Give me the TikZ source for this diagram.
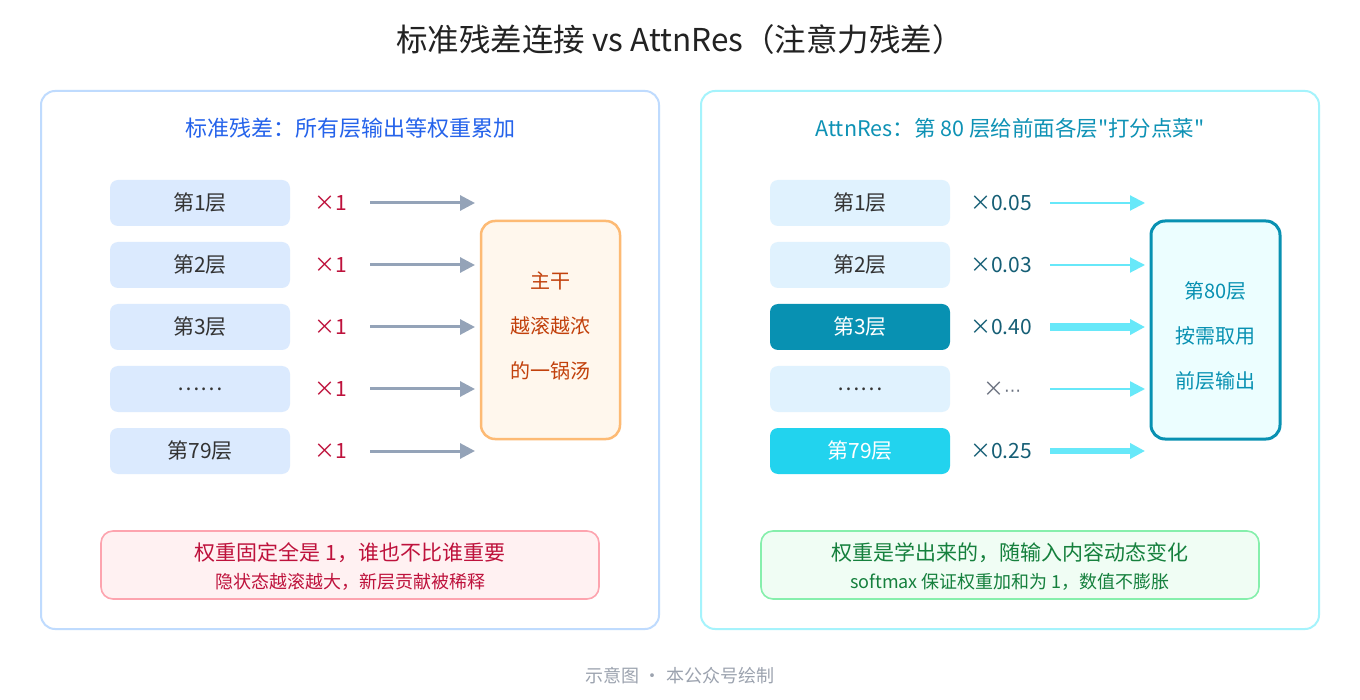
\documentclass[tikz,border=0pt]{standalone}
\usepackage{fontspec}
\setmainfont{Noto Sans CJK SC}[Ligatures=TeXOff]
\newfontfamily\dvfont{DejaVu Sans}
\usetikzlibrary{arrows.meta}
\definecolor{titlec}{HTML}{222222}
\definecolor{lpanel}{HTML}{BFDBFE}
\definecolor{rpanel}{HTML}{A5F3FC}
\definecolor{lsub}{HTML}{2563EB}
\definecolor{rsub}{HTML}{0E92B5}
\definecolor{llay}{HTML}{DBEAFE}
\definecolor{rlay}{HTML}{E0F2FE}
\definecolor{laytxt}{HTML}{333333}
\definecolor{wred}{HTML}{BE123C}
\definecolor{wteal}{HTML}{155E75}
\definecolor{wgray}{HTML}{6B7280}
\definecolor{larrow}{HTML}{94A3B8}
\definecolor{rarrow}{HTML}{67E8F9}
\definecolor{ofill}{HTML}{FFF7ED}
\definecolor{oline}{HTML}{FDBA74}
\definecolor{otxt}{HTML}{C2410C}
\definecolor{cfill}{HTML}{ECFEFF}
\definecolor{cline}{HTML}{0891B2}
\definecolor{dark3}{HTML}{0891B2}
\definecolor{cyan79}{HTML}{22D3EE}
\definecolor{pfill}{HTML}{FFF1F2}
\definecolor{pline}{HTML}{FDA4AF}
\definecolor{ptxt}{HTML}{BE123C}
\definecolor{gfill}{HTML}{F0FDF4}
\definecolor{gline}{HTML}{86EFAC}
\definecolor{gtxt}{HTML}{15803D}
\definecolor{foot}{HTML}{9CA3AF}
\newcommand{\fs}[1]{\fontsize{#1}{#1}\selectfont}
\tikzset{
  panel/.style={draw, line width=2pt, rounded corners=14pt, fill=white, minimum width=618pt, minimum height=538pt, inner sep=0pt},
  laybox/.style={rounded corners=8pt, minimum width=180pt, minimum height=46pt, inner sep=0pt, font=\fs{21}, text=laytxt},
  wlab/.style={font=\fs{21}, inner sep=0pt},
  larr/.style={draw=larrow, line width=3pt, -{Triangle[length=15pt,width=15pt]}, shorten >=0pt},
  rarr/.style={draw=rarrow, -{Triangle[length=15pt,width=15pt]}},
  bigbox/.style={line width=2.5pt, rounded corners=14pt, inner sep=0pt},
  notebox/.style={line width=1.6pt, rounded corners=12pt, minimum width=498pt, minimum height=68pt, inner sep=0pt},
  txt/.style={inner sep=0pt}
}
\begin{document}
\begin{tikzpicture}[x=1pt,y=-1pt]
\useasboundingbox (0,0) rectangle (1360,700);
\fill[white] (0,0) rectangle (1360,700);

\node[txt, text=titlec, font=\fs{31.5}] (title) at (680,40) {标准残差连接 vs AttnRes（注意力残差）};

% panels
\node[panel, draw=lpanel] (lp) at (350,360) {};
\node[panel, draw=rpanel] (rp) at (1010,360) {};

\node[txt, text=lsub, font=\fs{22}] (lsub) at (350,128) {标准残差：所有层输出等权重累加};
\node[txt, text=rsub, font=\fs{21.5}] (rsub) at (1010,128) {AttnRes：第 80 层给前面各层"打分点菜"};

% left layers
\foreach \i/\y/\t in {1/203/第1层, 2/265/第2层, 3/327/第3层, 4/389/……, 5/451/第79层}{
  \node[laybox, fill=llay] (l\i) at (200,\y) {\t};
  \node[wlab, text=wred] (lw\i) at (331,\y) {×1};
  \coordinate (ls\i) at (370,\y);
  \coordinate (le\i) at (475,\y);
  \draw[larr] (ls\i) -- (le\i);
}

% orange box
\node[bigbox, draw=oline, fill=ofill, minimum width=139pt, minimum height=218pt] (trunk) at (550.5,330) {};
\node[txt, text=otxt, font=\fs{20}] (t1) at (550.5,281) {主干};
\node[txt, text=otxt, font=\fs{20}] (t2) at (550.5,326) {越滚越浓};
\node[txt, text=otxt, font=\fs{20}] (t3) at (550.5,371) {的一锅汤};

% right layers
\node[laybox, fill=rlay] (r1) at (860,203) {第1层};
\node[laybox, fill=rlay] (r2) at (860,265) {第2层};
\node[laybox, fill=dark3, text=white] (r3) at (860,327) {第3层};
\node[laybox, fill=rlay] (r4) at (860,389) {……};
\node[laybox, fill=cyan79, text=white] (r5) at (860,451) {第79层};

\node[wlab, text=wteal] (rw1) at (1001,203) {×0.05};
\node[wlab, text=wteal] (rw2) at (1001,265) {×0.03};
\node[wlab, text=wteal] (rw3) at (1001,327) {×0.40};
\node[wlab, text=wgray] (rw4) at (1002,389) {×{\dvfont\fs{17}⋯}};
\node[wlab, text=wteal] (rw5) at (1001,451) {×0.25};

\foreach \i/\y in {1/203,2/265,3/327,4/389,5/451}{
  \coordinate (rs\i) at (1050,\y);
  \coordinate (re\i) at (1145,\y);
}
\draw[rarr, line width=2pt] (rs1) -- (re1);
\draw[rarr, line width=2pt] (rs2) -- (re2);
\draw[rarr, line width=8pt] (rs3) -- (re3);
\draw[rarr, line width=2.5pt] (rs4) -- (re4);
\draw[rarr, line width=6.5pt] (rs5) -- (re5);

% cyan box
\node[bigbox, line width=3pt, draw=cline, fill=cfill, minimum width=129pt, minimum height=218pt] (l80) at (1215.5,330) {};
\node[txt, text=cline, font=\fs{20}] (c1) at (1215.5,291) {第80层};
\node[txt, text=cline, font=\fs{20}] (c2) at (1215.5,336) {按需取用};
\node[txt, text=cline, font=\fs{20}] (c3) at (1215.5,381) {前层输出};

% notes
\node[notebox, draw=pline, fill=pfill] (pn) at (350,565) {};
\node[txt, text=ptxt, font=\fs{21}] (pn1) at (350,553) {权重固定全是 1，谁也不比谁重要};
\node[txt, text=ptxt, font=\fs{18}] (pn2) at (350,582) {隐状态越滚越大，新层贡献被稀释};

\node[notebox, draw=gline, fill=gfill] (gn) at (1010,565) {};
\node[txt, text=gtxt, font=\fs{21}] (gn1) at (1010,553) {权重是学出来的，随输入内容动态变化};
\node[txt, text=gtxt, font=\fs{18}] (gn2) at (1010,582) {softmax 保证权重加和为 1，数值不膨胀};

\node[txt, text=foot, font=\fs{18}] (ft) at (680,676) {示意图 · 本公众号绘制};
\end{tikzpicture}
\end{document}
